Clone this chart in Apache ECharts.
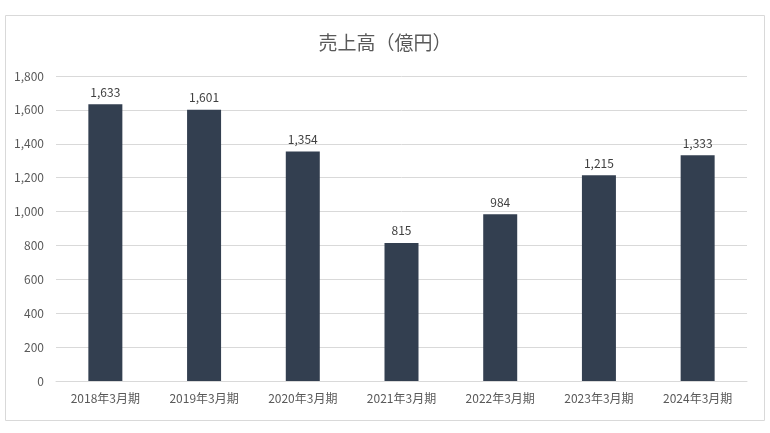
<!DOCTYPE html>
<html><head><meta charset="utf-8">
<script src="https://cdn.jsdelivr.net/npm/echarts@6/dist/echarts.min.js"></script>
<style>html,body{margin:0;padding:0;background:#fff}#c{width:770px;height:433px}</style>
</head><body><div id="c"></div>
<script>
const categories = ['2018年3月期','2019年3月期','2020年3月期','2021年3月期','2022年3月期','2023年3月期','2024年3月期'];
const sales = [1633, 1601, 1354, 815, 984, 1215, 1333];
const chart = echarts.init(document.getElementById('c'));
const font = '"Noto Sans CJK JP", "Open Sans", sans-serif';
chart.setOption({
  animation: false,
  textStyle: { fontFamily: font },
  graphic: [{ type: 'rect', shape: { x: 5.5, y: 15.5, width: 759, height: 405 }, style: { fill: 'none', stroke: '#d9d9d9', lineWidth: 1 }, silent: true }],
  title: { text: '売上高（億円）', left: 'center', top: 28, textStyle: { fontSize: 19, fontWeight: 'normal', color: '#595959', fontFamily: font } },
  grid: { left: 56, right: 23, top: 76, bottom: 52 },
  xAxis: {
    type: 'category', data: categories,
    axisLine: { lineStyle: { color: '#d9d9d9' } },
    axisTick: { show: false },
    axisLabel: { color: '#595959', fontSize: 12, margin: 11, fontFamily: font }
  },
  yAxis: {
    type: 'value', min: 0, max: 1800, interval: 200,
    axisLine: { show: false }, axisTick: { show: false },
    splitLine: { lineStyle: { color: '#d9d9d9' } },
    axisLabel: { color: '#595959', fontSize: 12, margin: 12, fontFamily: font,
      formatter: v => v.toLocaleString('en-US') }
  },
  series: [{
    type: 'bar', data: sales, barWidth: 34,
    itemStyle: { color: '#333f50' },
    label: { show: true, position: 'top', distance: 6, color: '#404040', fontSize: 12, fontFamily: font,
      formatter: p => p.value.toLocaleString('en-US') }
  }]
});
</script></body></html>
